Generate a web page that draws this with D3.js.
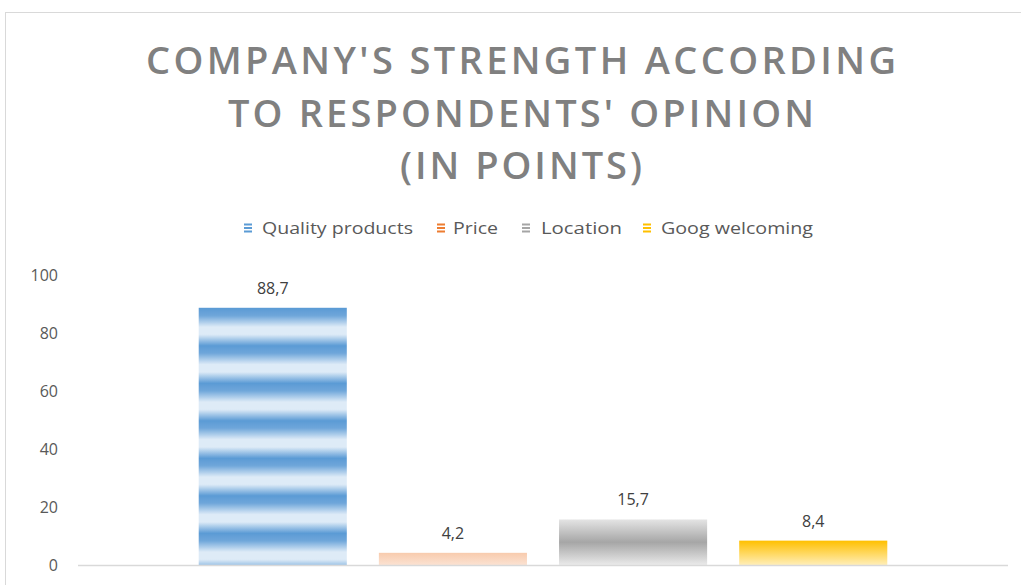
<!DOCTYPE html>
<html>
<head>
<meta charset="utf-8">
<script src="https://cdn.jsdelivr.net/npm/d3@7"></script>
<style>
  body { margin: 0; background: #fff; }
  svg { display: block; }
</style>
</head>
<body>
<script>

WIDTH = 1021;
HEIGHT = 585;

// data
var SERIES = ["Quality products", "Price", "Location", "Goog welcoming"];
var VALUES = [88.7, 4.2, 15.7, 8.4];
var Y_TICKS = [0, 20, 40, 60, 80, 100];
var TITLE_LINES = ["COMPANY'S STRENGTH ACCORDING", "TO RESPONDENTS' OPINION", "(IN POINTS)"];

var MARKER_COLORS = ["#5b9bd5", "#ed7d31", "#a5a5a5", "#ffc000"];

var formatLabel = v => d3.format(".1f")(v).replace(".", ",");

var svg = d3.select("body").append("svg")
    .attr("width", WIDTH)
    .attr("height", HEIGHT);

// chart border
svg.append("rect")
    .attr("x", 5.5).attr("y", 12.5)
    .attr("width", 1040).attr("height", 620)
    .attr("fill", "#fff")
    .attr("stroke", "#d9d9d9");

var defs = svg.append("defs");

// blue striped fill
var pat = defs.append("pattern")
    .attr("id", "stripes")
    .attr("patternUnits", "userSpaceOnUse")
    .attr("x", 0).attr("y", 297)
    .attr("width", 10).attr("height", 37.5);
var sg = defs.append("linearGradient")
    .attr("id", "stripeGrad")
    .attr("x1", 0).attr("y1", 0).attr("x2", 0).attr("y2", 1);
[[0, "#deebf7"], [0.3, "#5b9bd5"], [0.5, "#6fa6da"], [0.8, "#deebf7"], [1, "#deebf7"]]
    .forEach(s => sg.append("stop").attr("offset", s[0]).attr("stop-color", s[1]));
pat.append("rect").attr("width", 10).attr("height", 37.5).attr("fill", "url(#stripeGrad)");

function vgrad(id, stops) {
    var g = defs.append("linearGradient")
        .attr("id", id)
        .attr("x1", 0).attr("y1", 0).attr("x2", 0).attr("y2", 1);
    stops.forEach(s => g.append("stop").attr("offset", s[0]).attr("stop-color", s[1]));
}
vgrad("gPrice", [[0, "#f8cbad"], [1, "#fbe2d2"]]);
vgrad("gLoc", [[0, "#e4e4e4"], [0.5, "#a6a6a6"], [1, "#eaeaea"]]);
vgrad("gGoog", [[0, "#ffc000"], [1, "#ffeeb8"]]);

var FILLS = ["url(#stripes)", "url(#gPrice)", "url(#gLoc)", "url(#gGoog)"];

// title
var titleY = [74, 127, 179];
var titleW = [750, 586, 242];
svg.append("g").selectAll("text")
    .data(TITLE_LINES)
    .enter().append("text")
    .attr("x", 521)
    .attr("y", (d, i) => titleY[i])
    .attr("text-anchor", "middle")
    .attr("textLength", (d, i) => titleW[i])
    .attr("lengthAdjust", "spacing")
    .attr("font-family", "Open Sans, sans-serif")
    .attr("font-weight", 600)
    .attr("font-size", 38)
    .attr("fill", "#808080")
    .text(d => d);

// scales
var x = d3.scaleBand()
    .domain(SERIES)
    .range([78, 1008])
    .paddingInner(0.178)
    .paddingOuter(0.67);

var y = d3.scaleLinear()
    .domain([0, 100])
    .range([565, 275]);

// y axis
var yAxis = g => g
    .attr("transform", "translate(58,0)")
    .call(d3.axisLeft(y).tickValues(Y_TICKS).tickSize(0).tickPadding(0))
    .call(g => g.select(".domain").remove())
    .call(g => g.selectAll("text")
        .attr("font-family", "Open Sans, sans-serif")
        .attr("font-size", 16)
        .attr("fill", "#595959"));
svg.append("g").call(yAxis);

// bars
svg.append("g").selectAll("rect")
    .data(VALUES)
    .enter().append("rect")
    .attr("x", (d, i) => x(SERIES[i]))
    .attr("width", x.bandwidth())
    .attr("y", d => y(d))
    .attr("height", d => y(0) - y(d))
    .attr("fill", (d, i) => FILLS[i]);

// baseline
svg.append("line")
    .attr("x1", x.range()[0]).attr("x2", x.range()[1])
    .attr("y1", y(0) + 0.5).attr("y2", y(0) + 0.5)
    .attr("stroke", "#d9d9d9")
    .attr("stroke-width", 1.5);

// data labels
svg.append("g").selectAll("text")
    .data(VALUES)
    .enter().append("text")
    .attr("x", (d, i) => x(SERIES[i]) + x.bandwidth() / 2)
    .attr("y", d => y(d) - 14)
    .attr("text-anchor", "middle")
    .attr("font-family", "Open Sans, sans-serif")
    .attr("font-size", 16)
    .attr("fill", "#404040")
    .text(d => formatLabel(d));

// legend
var legendX = [244, 437, 522, 643];
var legendW = [151, 45, 81, 152];
var leg = svg.append("g").selectAll("g")
    .data(SERIES)
    .enter().append("g")
    .attr("transform", (d, i) => "translate(" + legendX[i] + ",228)");
[-3.5, 0, 3.5].forEach(dy => {
    leg.append("rect")
        .attr("x", 0).attr("y", dy - 1)
        .attr("width", 8).attr("height", 2)
        .attr("fill", (d, i) => MARKER_COLORS[i]);
});
leg.append("text")
    .attr("x", (d, i) => i == 0 ? 18 : (i == 1 ? 16 : 19 - (i == 3 ? 1 : 0)))
    .attr("y", 6)
    .attr("textLength", (d, i) => legendW[i])
    .attr("lengthAdjust", "spacingAndGlyphs")
    .attr("font-family", "Open Sans, sans-serif")
    .attr("font-size", 17)
    .attr("fill", "#595959")
    .text(d => d);

</script>
</body>
</html>
